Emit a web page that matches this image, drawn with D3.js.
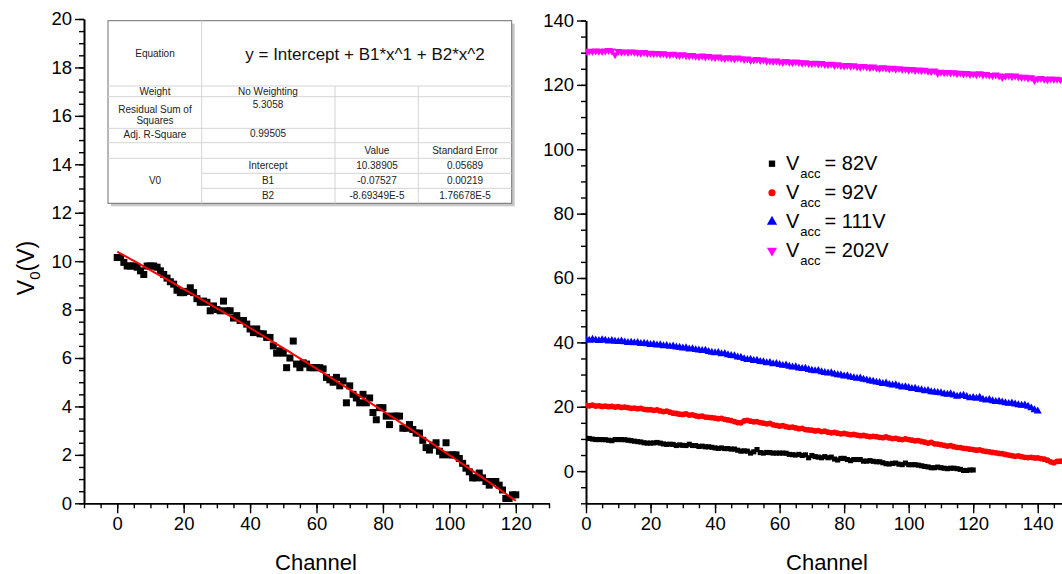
<!DOCTYPE html>
<html>
<head>
<meta charset="utf-8">
<script src="https://cdn.jsdelivr.net/npm/d3@7"></script>
<style>
  body { margin: 0; background: #fff; }
  text { font-family: "Liberation Sans", Arial, sans-serif; }
</style>
</head>
<body>
<svg id="viz"></svg>
<script>
var width = 1062;
var height = 574;

// V0 vs channel for Vacc = 82V (left panel, also black series on the right)
var v82 = [10.15, 10.15, 9.95, 9.8, 9.8, 9.8, 9.75, 9.6, 9.45, 9.8,
  9.8, 9.8, 9.75, 9.6, 9.45, 9.3, 9.15, 9.05, 8.8, 8.7,
  8.7, 8.75, 8.9, 8.7, 8.45, 8.3, 8.35, 8.3, 7.95, 8.15,
  8.0, 7.95, 8.35, 7.95, 7.95, 7.65, 7.75, 7.55, 7.55, 7.4,
  7.2, 7.05, 7.2, 7.0, 7.0, 6.85, 6.85, 6.5, 6.2, 6.3,
  6.2, 5.6, 6.0, 6.7, 5.75, 5.6, 5.8, 5.75, 5.6, 5.6,
  5.6, 5.6, 5.55, 5.2, 5.1, 5.0, 5.2, 4.85, 5.05, 4.15,
  4.85, 4.5, 4.35, 4.15, 4.5, 4.15, 4.35, 3.75, 3.45, 3.95,
  3.95, 3.6, 3.25, 3.6, 3.6, 3.6, 3.1, 3.1, 3.25, 3.05,
  2.9, 2.9, 2.6, 2.3, 2.2, 2.4, 2.5, 2.15, 2.0, 2.5,
  2.0, 2.0, 2.0, 1.85, 1.65, 1.45, 1.3, 1.05, 1.05, 1.25,
  1.05, 0.9, 0.75, 0.9, 0.9, 0.75, 0.55, 0.2, 0.2, 0.35,
  0.35];

var v92 = [20.4, 20.3, 20.5, 20.2, 20.3, 20.1, 20.2, 20.0, 20.1, 19.9,
  20.0, 19.8, 19.9, 19.7, 19.5, 19.6, 19.4, 19.5, 19.2, 19.1,
  19.1, 18.9, 19.0, 18.7, 18.5, 18.6, 18.3, 18.0, 17.9, 17.7,
  17.6, 17.8, 17.4, 17.5, 17.2, 17.0, 17.1, 16.8, 16.7, 16.6,
  16.5, 16.3, 16.4, 16.1, 15.9, 15.7, 15.4, 15.1, 15.0, 15.6,
  15.8, 15.5, 15.3, 15.4, 15.1, 14.9, 14.7, 14.8, 14.4, 14.2,
  14.0, 14.1, 13.8, 13.6, 13.7, 13.4, 13.2, 13.3, 12.9, 12.8,
  12.7, 12.5, 12.6, 12.3, 12.4, 12.1, 11.9, 12.0, 11.8, 11.6,
  11.7, 11.5, 11.3, 11.4, 11.2, 11.0, 11.1, 10.9, 10.7, 10.8,
  10.7, 10.5, 10.4, 10.6, 10.3, 10.1, 10.2, 9.9, 9.8, 10.0,
  9.8, 9.6, 9.4, 9.5, 9.2, 9.0, 8.7, 8.9, 8.5, 8.4,
  8.2, 8.0, 7.8, 7.9, 7.6, 7.4, 7.3, 7.1, 7.0, 6.8,
  6.7, 6.5, 6.6, 6.3, 6.1, 6.0, 5.8, 5.7, 5.5, 5.4,
  5.2, 5.0, 4.8, 4.6, 4.7, 4.5, 4.3, 4.2, 4.3, 4.1,
  4.1, 3.9, 3.7, 3.4, 2.9, 2.6, 3.0, 3.1];

var v111 = [40.8, 40.6, 40.9, 40.7, 40.5, 40.8, 40.6, 40.4, 40.5, 40.3,
  40.2, 40.4, 40.1, 39.9, 40.0, 39.8, 39.9, 39.6, 39.7, 39.5,
  39.3, 39.4, 39.1, 39.2, 38.9, 39.0, 38.7, 38.8, 38.5, 38.4,
  38.2, 38.3, 37.9, 38.0, 37.7, 37.6, 37.4, 37.5, 37.1, 36.9,
  36.7, 36.8, 36.4, 36.5, 36.1, 35.9, 35.8, 35.4, 35.3, 34.9,
  34.6, 34.7, 34.3, 34.4, 34.0, 33.9, 33.6, 33.7, 33.3, 33.4,
  33.1, 32.8, 32.9, 32.5, 32.3, 32.4, 32.0, 31.8, 31.9, 31.5,
  31.3, 31.1, 31.2, 30.8, 30.6, 30.4, 30.5, 30.1, 29.9, 29.8,
  29.5, 29.6, 29.2, 29.0, 28.8, 28.9, 28.5, 28.3, 28.0, 27.9,
  27.6, 27.5, 27.2, 27.3, 26.9, 26.7, 26.8, 26.4, 26.1, 26.2,
  25.9, 25.6, 25.7, 25.3, 25.2, 24.9, 25.0, 24.6, 24.5, 24.4,
  24.3, 24.0, 23.8, 24.0, 23.6, 23.2, 23.4, 23.5, 23.1, 22.7,
  22.8, 22.6, 22.9, 22.3, 22.0, 22.2, 21.8, 21.6, 21.7, 21.4,
  21.2, 21.0, 21.1, 20.8, 20.6, 20.4, 20.5, 20.1, 19.6, 19.0,
  18.6];

var v202 = [130.3, 130.5, 130.4, 130.6, 130.5, 130.4, 130.6, 130.7, 130.6, 129.4,
  130.4, 130.2, 130.3, 130.1, 130.3, 130.2, 130.0, 129.9, 130.1, 129.8,
  129.9, 129.7, 129.8, 129.6, 129.7, 129.5, 129.4, 129.6, 129.3, 129.2,
  129.4, 129.1, 129.0, 129.2, 128.9, 128.8, 129.0, 128.7, 128.9, 128.6,
  128.5, 128.7, 128.4, 128.2, 128.5, 128.3, 128.1, 128.4, 128.2, 127.9,
  128.1, 127.6, 127.8, 127.9, 127.6, 127.8, 127.4, 127.5, 127.3, 127.5,
  127.2, 127.0, 127.3, 127.1, 126.9, 127.2, 127.0, 126.8, 126.9, 126.7,
  126.6, 126.8, 126.5, 126.7, 126.4, 126.3, 126.5, 126.1, 126.3, 126.0,
  125.9, 126.1, 125.8, 126.0, 125.7, 125.5, 125.8, 125.6, 125.4, 125.6,
  125.3, 125.1, 125.4, 125.2, 125.0, 125.2, 124.9, 125.1, 124.8, 124.9,
  124.6, 124.8, 124.5, 124.7, 124.4, 124.6, 124.3, 124.1, 124.4, 123.6,
  124.0, 123.8, 123.9, 123.7, 123.8, 123.5, 123.7, 123.4, 123.6, 123.3,
  123.4, 123.2, 123.5, 123.1, 123.3, 123.0, 122.9, 123.1, 122.8, 122.3,
  122.7, 122.9, 122.6, 122.8, 122.5, 122.3, 122.4, 122.1, 122.3, 121.4,
  121.9, 122.0, 121.8, 121.6, 121.9, 121.7, 121.8, 121.6];

// polynomial fit shown in the table: Intercept, B1, B2
var fitCoeffs = [10.38905, -0.07527, -8.69349e-5];

var seriesNames = ["82V", "92V", "111V", "202V"];
var seriesColors = ["#000000", "#ff0000", "#0000ff", "#ff00ff"];
var seriesValues = [v82, v92, v111, v202];

var leftXTicks = [0, 20, 40, 60, 80, 100, 120];
var leftYTicks = [0, 2, 4, 6, 8, 10, 12, 14, 16, 18, 20];
var rightXTicks = [0, 20, 40, 60, 80, 100, 120, 140];
var rightYTicks = [0, 20, 40, 60, 80, 100, 120, 140];

var tableRows = [
  ["Weight", "No Weighting", "", ""],
  ["Residual Sum of|Squares", "5.3058", "", ""],
  ["Adj. R-Square", "0.99505", "", ""],
  ["", "", "Value", "Standard Error"],
  ["", "Intercept", "10.38905", "0.05689"],
  ["V0", "B1", "-0.07527", "0.00219"],
  ["", "B2", "-8.69349E-5", "1.76678E-5"]
];

var svg = d3.select("#viz").attr("width", width).attr("height", height);
svg.append("rect").attr("width", width).attr("height", height).attr("fill", "#fff");

var xL = d3.scaleLinear().domain([-10, 130]).range([84, 549]);
var yL = d3.scaleLinear().domain([0, 20]).range([503.3, 19]);
var xR = d3.scaleLinear().domain([0, 150]).range([586, 1070]);
var yR = d3.scaleLinear().domain([-10, 140]).range([503.3, 20.5]);

function drawAxes(x, y, xTicks, yTicks, xMinorStep, yMinorStep, x0, y0) {
  var g = svg.append("g");
  var xMinor = d3.range(x.domain()[0], x.domain()[1] + 0.001, xMinorStep);
  var yMinor = d3.range(y.domain()[0], y.domain()[1] + 0.001, yMinorStep);

  g.append("g").attr("transform", "translate(0," + y0 + ")")
    .call(d3.axisBottom(x).tickValues(xMinor).tickSize(5).tickSizeOuter(0).tickFormat(""));
  g.append("g").attr("transform", "translate(0," + y0 + ")")
    .call(d3.axisBottom(x).tickValues(xTicks).tickSize(10).tickSizeOuter(0).tickPadding(4));
  g.append("g").attr("transform", "translate(" + x0 + ",0)")
    .call(d3.axisLeft(y).tickValues(yMinor).tickSize(5).tickSizeOuter(0).tickFormat(""));
  g.append("g").attr("transform", "translate(" + x0 + ",0)")
    .call(d3.axisLeft(y).tickValues(yTicks).tickSize(9).tickSizeOuter(0).tickPadding(3));

  g.selectAll("path.domain").attr("stroke", "#000").attr("stroke-width", 1.6);
  g.selectAll(".tick line").attr("stroke", "#000").attr("stroke-width", 1.4);
  g.selectAll(".tick text").attr("fill", "#000").style("font-size", "18.5px")
    .style("font-family", "'Liberation Sans', Arial, sans-serif");
}

drawAxes(xL, yL, leftXTicks, leftYTicks, 5, 0.5, 84, 503.3);
drawAxes(xR, yR, rightXTicks, rightYTicks, 5, 5, 586, 503.3);

// axis titles
svg.append("text").attr("x", 316).attr("y", 570).attr("text-anchor", "middle")
  .style("font-size", "22px").text("Channel");
svg.append("text").attr("x", 827).attr("y", 570).attr("text-anchor", "middle")
  .style("font-size", "22px").text("Channel");

var ylab = svg.append("text")
  .attr("transform", "translate(34,268) rotate(-90)")
  .attr("text-anchor", "middle")
  .style("font-size", "23px");
ylab.append("tspan").text("V");
ylab.append("tspan").attr("dy", 6).style("font-size", "15px").text("0");
ylab.append("tspan").attr("dy", -6).text("(V)");

// left panel: data + fit
svg.append("g").selectAll("rect")
  .data(v82)
  .enter().append("rect")
  .attr("x", function(d, i) { return xL(i) - 3.5; })
  .attr("y", function(d) { return yL(d) - 3.5; })
  .attr("width", 7).attr("height", 7)
  .attr("fill", "#000");

var fitLine = d3.line()
  .x(function(d) { return xL(d); })
  .y(function(d) { return yL(fitCoeffs[0] + fitCoeffs[1] * d + fitCoeffs[2] * d * d); });
svg.append("path")
  .datum(d3.range(0, 120.01, 1))
  .attr("d", fitLine)
  .attr("fill", "none")
  .attr("stroke", "#ff0000")
  .attr("stroke-width", 2);

// right panel
var symbols = [d3.symbolSquare, d3.symbolCircle, d3.symbolTriangle, d3.symbolTriangle];
var rotations = [0, 0, 0, 180];
svg.append("clipPath").attr("id", "rclip").append("rect")
  .attr("x", 586).attr("y", 0).attr("width", 480).attr("height", 503);

seriesValues.forEach(function(vals, k) {
  var sym = d3.symbol().type(symbols[k]).size(k < 2 ? 26 : 28);
  svg.append("g").attr("clip-path", "url(#rclip)")
    .selectAll("path")
    .data(vals)
    .enter().append("path")
    .attr("d", sym)
    .attr("transform", function(d, i) {
      return "translate(" + xR(i) + "," + yR(d) + ") rotate(" + rotations[k] + ")";
    })
    .attr("fill", seriesColors[k]);
});

// legend
var legend = svg.append("g");
seriesNames.forEach(function(name, k) {
  var yy = 163.7 + k * 29;
  legend.append("path")
    .attr("d", d3.symbol().type(symbols[k]).size(k < 2 ? 40 : 45))
    .attr("transform", "translate(772," + yy + ") rotate(" + rotations[k] + ")")
    .attr("fill", seriesColors[k]);
  var t = legend.append("text").attr("x", 786).attr("y", yy + 6.5).style("font-size", "20px");
  t.append("tspan").text("V");
  t.append("tspan").attr("dx", 1).attr("dy", 8).style("font-size", "13px").text("acc");
  t.append("tspan").attr("dx", 4).attr("dy", -8).text("= " + name);
});

// fit results table
var tx = [108, 201.7, 335, 418.3, 511.7];
var ty = [20.7, 86, 96.7, 128.3, 142.7, 158.3, 173.3, 188.3, 203.3];
var table = svg.append("g");
table.append("rect").attr("x", tx[0] + 3).attr("y", ty[0] + 3)
  .attr("width", tx[4] - tx[0]).attr("height", ty[8] - ty[0]).attr("fill", "#c8c8c8");
table.append("rect").attr("x", tx[0]).attr("y", ty[0])
  .attr("width", tx[4] - tx[0]).attr("height", ty[8] - ty[0])
  .attr("fill", "#fff").attr("stroke", "#6e6e6e").attr("stroke-width", 1);

var grid = [];
grid.push([tx[1], ty[0], tx[1], ty[8]]);
grid.push([tx[2], ty[1], tx[2], ty[8]]);
grid.push([tx[3], ty[1], tx[3], ty[8]]);
[1, 2, 3, 4, 5].forEach(function(r) { grid.push([tx[0], ty[r], tx[4], ty[r]]); });
[6, 7].forEach(function(r) { grid.push([tx[1], ty[r], tx[4], ty[r]]); });
table.selectAll("line").data(grid).enter().append("line")
  .attr("x1", function(d) { return d[0]; }).attr("y1", function(d) { return d[1]; })
  .attr("x2", function(d) { return d[2]; }).attr("y2", function(d) { return d[3]; })
  .attr("stroke", "#d4d4d4").attr("stroke-width", 1);

var colMid = [155, 268, 377, 465];
table.append("text").attr("x", colMid[0]).attr("y", 53.5)
  .attr("text-anchor", "middle").attr("dominant-baseline", "central")
  .style("font-size", "10px").attr("fill", "#222").text("Equation");
table.append("text").attr("x", 365).attr("y", 54)
  .attr("text-anchor", "middle").attr("dominant-baseline", "central")
  .style("font-size", "17px").attr("fill", "#111").text("y = Intercept + B1*x^1 + B2*x^2");

var rowY = [91, 106, 134.5, 150.5, 165, 180.5, 195.5];
tableRows.forEach(function(row, r) {
  row.forEach(function(cell, c) {
    if (!cell) return;
    var lines = cell.split("|");
    lines.forEach(function(line, j) {
      var yy = rowY[r];
      if (r == 1 && c == 0) yy = 109.5 + j * 10.5;
      if (r == 1 && c == 1) yy = 104.5;
      if (r == 2 && c == 1) yy = 133;
      table.append("text").attr("x", colMid[c]).attr("y", yy)
        .attr("text-anchor", "middle").attr("dominant-baseline", "central")
        .style("font-size", "10px").attr("fill", "#222").text(line);
    });
  });
});
</script>
</body>
</html>
